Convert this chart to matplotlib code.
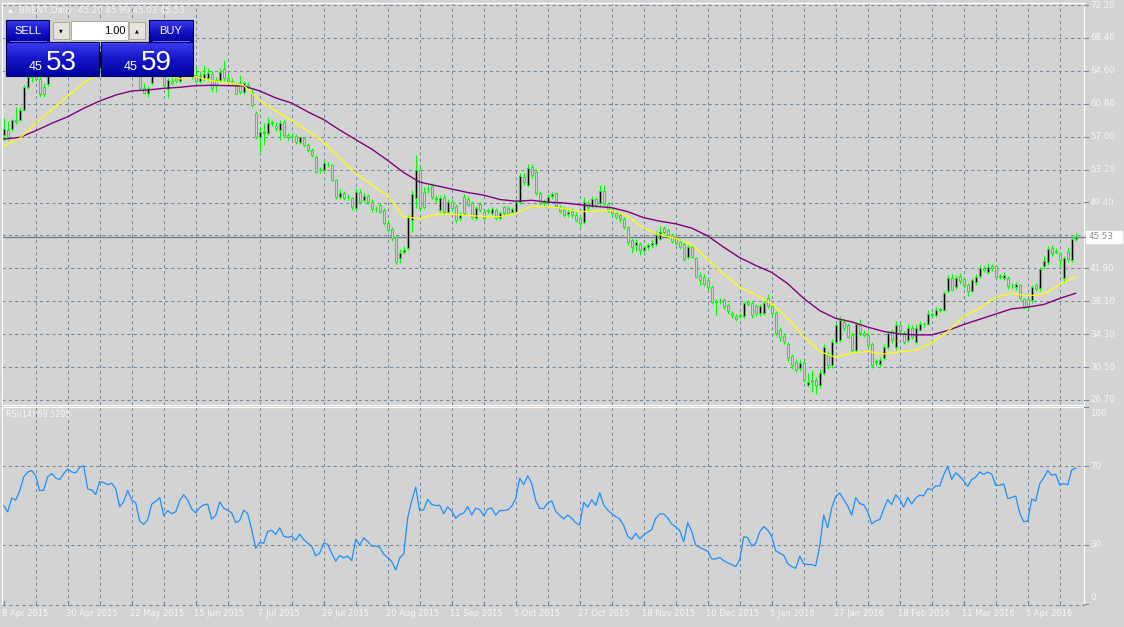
import numpy as np
import matplotlib.pyplot as plt
from matplotlib.colors import LinearSegmentedColormap

# ---- data (daily bars, 8 Apr 2015 .. 21 Apr 2016) ----
opens = [
    57.2, 57.8, 57.9, 59.0, 59.0, 60.1, 62.8, 63.9, 64.3, 63.7,
    62.8, 63.1, 64.6, 65.3, 64.8, 64.6, 65.8, 66.8, 66.5, 66.4,
    67.5, 67.8, 65.5, 65.4, 64.9, 66.9, 66.8, 66.6, 66.8, 66.3,
    64.4, 65.0, 66.5, 65.4, 64.9, 62.6, 62.1, 63.2, 64.5, 64.9,
    65.4, 62.5, 63.5, 63.8, 63.4, 64.8, 65.6, 65.0, 64.1, 63.5,
    63.75, 63.8, 64.25, 63.56, 63.56, 64.8, 63.75, 63.5, 63.0, 63.2,
    62.2, 63.0, 62.2, 59.8, 57.0, 57.6, 57.4, 58.6, 58.3, 57.8,
    58.75, 57.2, 57.1, 57.1, 56.45, 56.84, 56.07, 55.5, 54.73, 53.25,
    53.2, 53.8, 53.77, 52.04, 50.05, 50.58, 50.05, 49.93, 48.8, 50.7,
    49.74, 50.2, 49.55, 48.7, 49.16, 48.6, 47.1, 46.36, 45.44, 43.0,
    43.78, 44.2, 47.43, 50.0, 53.19, 50.7, 51.1, 51.35, 49.9, 48.58,
    50.04, 48.39, 49.55, 49.04, 47.62, 50.04, 49.9, 49.35, 47.62, 49.27,
    48.39, 48.5, 48.28, 48.58, 47.62, 48.89, 48.78, 48.39, 48.39, 49.55,
    52.42, 51.46, 53.58, 53.0, 50.6, 49.55, 49.55, 50.2, 50.5, 48.9,
    48.6, 48.1, 48.5, 48.0, 47.7, 47.17, 49.35, 49.05, 49.9, 49.35,
    50.77, 49.24, 48.66, 48.2, 48.0, 47.6, 46.67, 45.1, 44.55, 44.67,
    43.98, 44.36, 44.5, 44.67, 45.3, 46.47, 46.28, 45.7, 45.2, 44.9,
    44.67, 43.13, 44.3, 43.0, 41.1, 40.9, 40.5, 39.75, 38.0, 38.1,
    38.2, 37.6, 36.76, 36.4, 36.4, 36.4, 38.0, 37.9, 37.5, 36.7,
    36.7, 38.4, 37.5, 36.7, 34.8, 34.1, 33.2, 31.77, 31.1, 30.35,
    31.0, 28.4, 29.0, 29.0, 28.4, 29.8, 31.9, 30.7, 33.4, 33.6,
    35.7, 35.3, 34.2, 32.46, 35.4, 34.45, 34.2, 33.2, 31.1, 30.9,
    31.5, 32.8, 34.6, 32.8, 35.3, 34.4, 33.6, 35.0, 33.4, 34.8,
    35.4, 35.5, 36.5, 36.5, 37.1, 37.1, 39.2, 40.8, 39.7, 41.0,
    40.6, 39.9, 39.3, 40.3, 41.0, 41.86, 41.48, 42.1, 42.1, 40.9,
    40.7, 40.7, 39.9, 39.67, 39.9, 38.3, 38.3, 38.2, 39.9, 39.56,
    42.1, 42.6, 44.2, 43.8, 43.67, 40.7, 43.7, 42.8, 45.29,
]
highs = [
    59.2, 58.8, 59.1, 60.5, 60.5, 63.0, 64.6, 64.8, 65.0, 64.0,
    63.2, 64.9, 65.6, 65.8, 65.4, 66.0, 67.0, 67.2, 67.0, 67.8,
    69.8, 68.0, 66.0, 65.8, 67.0, 67.5, 67.3, 67.1, 67.0, 66.5,
    65.4, 66.8, 66.7, 65.7, 65.2, 63.2, 62.9, 64.8, 65.5, 65.8,
    65.6, 63.8, 64.1, 64.5, 65.0, 65.8, 65.9, 65.2, 65.1, 64.6,
    65.3, 65.0, 64.6, 63.9, 64.9, 65.9, 64.2, 63.8, 63.3, 64.1,
    63.5, 63.3, 62.5, 60.0, 58.2, 58.6, 59.3, 59.0, 58.7, 58.95,
    58.9, 57.5, 57.4, 57.3, 57.1, 57.0, 56.3, 55.7, 54.9, 53.5,
    54.3, 54.1, 53.9, 52.2, 51.0, 50.8, 50.4, 50.1, 51.1, 51.0,
    50.5, 50.4, 49.8, 49.0, 49.4, 48.8, 47.4, 46.6, 45.7, 44.1,
    44.4, 48.0, 50.9, 54.9, 53.5, 51.2, 51.5, 51.7, 50.3, 50.3,
    50.4, 49.9, 49.8, 49.3, 48.3, 50.4, 50.2, 49.6, 49.1, 49.5,
    48.6, 48.8, 48.9, 48.8, 48.5, 49.1, 49.0, 48.9, 49.8, 52.8,
    52.9, 53.9, 53.9, 53.3, 50.8, 49.8, 50.4, 50.7, 50.7, 49.2,
    48.9, 48.7, 48.8, 48.3, 47.9, 50.1, 49.6, 50.2, 50.1, 51.5,
    51.5, 49.5, 48.9, 48.5, 48.2, 47.8, 46.8, 45.4, 45.2, 44.9,
    44.6, 44.8, 45.3, 46.2, 46.7, 46.8, 46.5, 45.9, 45.5, 45.2,
    44.9, 44.6, 44.5, 43.2, 41.4, 41.2, 40.7, 40.0, 38.3, 38.5,
    38.5, 37.9, 37.0, 36.6, 36.7, 38.1, 38.2, 38.1, 37.8, 37.8,
    38.1, 38.9, 37.8, 36.9, 35.1, 34.4, 33.4, 32.0, 31.4, 31.4,
    31.2, 29.8, 30.1, 29.4, 30.3, 33.2, 32.3, 33.7, 35.6, 36.4,
    36.0, 35.6, 34.5, 35.7, 36.0, 34.8, 34.5, 33.4, 31.4, 31.6,
    33.1, 34.7, 34.9, 35.8, 35.6, 34.7, 35.5, 35.3, 35.4, 35.8,
    35.7, 37.1, 36.8, 37.4, 37.4, 39.3, 41.1, 41.2, 41.1, 41.3,
    40.9, 40.2, 40.8, 41.2, 42.3, 42.1, 42.5, 42.4, 42.3, 41.2,
    41.4, 41.0, 40.2, 40.3, 40.1, 38.5, 38.5, 39.9, 40.2, 42.0,
    43.3, 44.4, 44.5, 44.2, 43.9, 43.3, 44.3, 45.5, 45.9,
]
lows = [
    56.7, 56.7, 57.7, 58.5, 58.8, 60.0, 62.5, 63.3, 63.4, 61.6,
    61.6, 62.9, 64.2, 64.3, 64.2, 64.3, 65.5, 66.0, 65.9, 66.2,
    67.0, 65.2, 64.8, 64.4, 64.7, 66.2, 66.0, 66.0, 66.0, 64.2,
    64.2, 64.8, 65.0, 64.8, 62.5, 61.9, 61.6, 63.0, 64.2, 64.5,
    62.8, 61.5, 63.0, 63.2, 63.2, 64.4, 64.8, 63.7, 63.2, 63.2,
    63.5, 63.4, 62.2, 62.2, 63.3, 63.5, 63.2, 63.0, 61.9, 62.0,
    62.0, 62.5, 60.5, 56.8, 55.3, 56.1, 57.2, 58.3, 57.7, 56.65,
    57.0, 56.7, 56.8, 56.2, 56.2, 55.9, 55.3, 54.7, 52.9, 52.9,
    53.0, 53.5, 51.9, 49.9, 49.8, 49.7, 49.7, 48.6, 48.6, 49.3,
    49.5, 49.3, 48.4, 48.4, 48.2, 46.9, 46.0, 45.0, 42.4, 42.5,
    43.5, 44.0, 46.0, 48.8, 48.5, 48.7, 50.6, 49.9, 49.5, 48.3,
    48.1, 48.2, 48.5, 47.1, 47.3, 48.0, 49.0, 47.5, 47.4, 48.3,
    47.4, 48.2, 48.0, 47.4, 47.4, 48.0, 48.0, 48.2, 48.2, 49.3,
    51.5, 51.2, 52.3, 50.3, 49.2, 49.0, 49.3, 49.9, 48.8, 48.2,
    47.8, 47.8, 47.7, 47.2, 46.6, 47.0, 48.6, 48.8, 48.9, 49.1,
    49.1, 48.4, 47.9, 47.5, 47.2, 46.4, 44.6, 43.6, 43.9, 43.4,
    43.6, 44.0, 44.2, 44.4, 45.1, 45.8, 45.4, 44.8, 44.5, 44.1,
    42.7, 42.9, 43.0, 40.7, 40.0, 39.8, 39.4, 37.8, 36.5, 37.8,
    37.2, 36.6, 36.2, 35.8, 36.1, 36.2, 37.5, 36.2, 36.4, 36.4,
    36.5, 37.3, 36.4, 34.1, 33.5, 33.2, 31.2, 30.3, 29.9, 30.0,
    28.8, 28.2, 27.6, 27.35, 28.1, 29.6, 30.3, 30.4, 33.2, 33.4,
    34.7, 33.8, 32.2, 32.2, 34.1, 33.9, 32.7, 30.4, 30.6, 30.5,
    31.3, 32.6, 33.3, 32.5, 34.3, 33.1, 33.4, 33.7, 33.1, 34.6,
    35.1, 35.3, 36.2, 36.3, 36.8, 36.9, 39.0, 39.2, 39.5, 40.1,
    39.6, 38.7, 39.1, 40.0, 40.8, 41.4, 41.2, 41.6, 40.7, 40.6,
    40.5, 39.5, 39.6, 39.4, 38.2, 37.2, 37.2, 37.9, 39.2, 39.3,
    41.8, 42.3, 43.3, 43.5, 42.0, 40.2, 42.6, 42.6, 45.03,
]
closes = [
    57.9, 57.0, 58.95, 58.7, 60.1, 62.8, 63.9, 64.3, 63.7, 61.9,
    62.0, 64.6, 65.3, 64.8, 64.6, 65.8, 66.8, 66.5, 66.4, 67.5,
    67.8, 65.5, 65.4, 64.9, 66.9, 66.8, 66.6, 66.8, 66.3, 64.4,
    65.0, 66.5, 65.4, 65.1, 62.6, 62.1, 62.6, 64.5, 64.9, 65.4,
    63.0, 63.6, 63.2, 63.4, 64.8, 65.6, 65.0, 63.9, 63.4, 64.0,
    64.3, 64.4, 62.6, 63.0, 64.5, 63.75, 63.5, 63.2, 62.0, 62.2,
    63.2, 62.8, 60.7, 57.0, 57.6, 57.4, 58.6, 58.7, 58.0, 58.65,
    57.2, 57.0, 57.1, 56.45, 56.95, 56.07, 55.5, 54.92, 53.0, 53.2,
    53.96, 53.75, 52.04, 50.05, 50.5, 49.93, 50.05, 48.97, 50.7, 49.55,
    50.2, 49.55, 48.66, 48.66, 48.4, 47.05, 46.28, 45.32, 42.63, 43.6,
    43.97, 47.8, 50.43, 53.19, 48.78, 48.97, 51.1, 50.12, 49.9, 49.93,
    48.39, 49.55, 48.78, 47.43, 48.0, 48.2, 49.16, 47.8, 48.78, 48.58,
    47.62, 48.5, 48.66, 47.62, 48.2, 48.2, 48.28, 48.66, 49.55, 52.5,
    51.85, 53.4, 52.62, 50.5, 49.4, 49.35, 50.12, 50.4, 49.05, 48.5,
    48.0, 48.4, 48.0, 47.4, 47.1, 49.47, 48.9, 49.8, 49.16, 50.77,
    49.35, 48.66, 48.2, 47.8, 47.5, 46.6, 44.95, 44.36, 44.9, 43.98,
    44.3, 44.55, 44.75, 45.7, 46.1, 46.1, 45.7, 45.05, 44.75, 44.36,
    42.9, 44.36, 43.2, 40.9, 40.5, 40.1, 39.7, 38.0, 38.0, 38.1,
    37.4, 36.9, 36.5, 36.0, 36.4, 37.9, 37.8, 36.5, 36.7, 37.5,
    37.9, 37.5, 36.7, 34.4, 33.9, 33.5, 31.5, 30.7, 30.15, 31.0,
    29.0, 28.8, 28.8, 28.4, 29.8, 32.8, 30.7, 33.4, 35.3, 35.9,
    34.95, 34.0, 32.46, 35.4, 34.4, 34.2, 33.0, 30.7, 31.1, 31.3,
    32.8, 34.4, 33.6, 35.3, 34.6, 33.4, 35.0, 34.0, 35.0, 35.5,
    35.4, 36.6, 36.5, 37.1, 37.1, 39.0, 40.8, 39.4, 40.8, 40.4,
    39.9, 39.3, 40.5, 40.9, 41.9, 41.67, 42.06, 41.9, 40.9, 40.9,
    41.1, 39.8, 39.9, 40.06, 38.4, 37.4, 37.45, 39.67, 39.45, 41.75,
    42.7, 44.05, 43.6, 43.8, 42.8, 43.0, 42.9, 45.2, 45.53,
]

# moving averages read every 4th bar
ma_step = 4
ma_fast = [
    55.96, 56.84, 58.57, 60.1, 61.7, 63.25, 64.2, 64.9, 65.3, 65.0,
    64.2, 63.7, 63.94, 63.45, 63.25, 62.95, 61.2, 60.0, 58.9, 57.7,
    56.4, 54.6, 52.8, 51.5, 50.2, 47.8, 47.6, 48.1, 48.1, 47.95,
    47.85, 47.8, 48.2, 49.0, 49.0, 48.75, 48.4, 48.45, 48.55, 47.85,
    46.5, 45.75, 45.3, 44.6, 42.9, 41.2, 39.7, 38.8, 37.8, 36.1,
    34.0, 32.3, 31.6, 32.1, 32.3, 32.0, 32.25, 32.45, 33.3, 34.6,
    36.3, 37.3, 38.5, 39.0, 38.7, 38.9, 40.0, 40.9,
]
ma_slow = [
    56.76, 56.95, 57.72, 58.57, 59.33, 60.3, 61.14, 61.83, 62.3, 62.41,
    62.6, 62.72, 62.91, 62.95, 62.91, 62.87, 62.3, 61.5, 60.9, 59.9,
    59.0, 57.8, 56.7, 55.6, 54.3, 52.9, 51.8, 51.4, 51.0, 50.6,
    50.3, 49.8, 49.6, 49.7, 49.5, 49.4, 49.2, 49.0, 48.85, 48.4,
    47.7, 47.3, 47.0, 46.5, 45.6, 44.3, 43.1, 42.2, 41.4, 40.1,
    38.4, 37.0, 36.1, 35.7, 35.1, 34.6, 34.3, 34.2, 34.2, 34.7,
    35.4, 36.0, 36.6, 37.2, 37.4, 37.7, 38.4, 39.0,
]

date_labels = [
    '8 Apr 2015', '30 Apr 2015', '22 May 2015', '15 Jun 2015', '7 Jul 2015',
    '29 Jul 2015', '20 Aug 2015', '11 Sep 2015', '5 Oct 2015', '27 Oct 2015',
    '18 Nov 2015', '10 Dec 2015', '5 Jan 2016', '27 Jan 2016', '18 Feb 2016',
    '11 Mar 2016', '5 Apr 2016',
]
# price grid from top to bottom; the 45.66 line carries no label (price tag sits there)
price_labels = ['72.20', '68.40', '64.60', '60.80', '57.00', '53.20', '49.40',
                '', '41.90', '38.10', '34.30', '30.50', '26.70']
price_top, price_bottom = 72.2, 26.7
label_every = 16
grid_every = 8
rsi_period = 14
rsi_levels = [70, 30]
rsi_ticks = [100, 70, 30, 0]
last_price = 45.53

# ---- look ----
W, H = 1124, 627
BG = '#d3d3d3'
GRID = '#778899'
LIME = '#00ff00'
TXT = '#f6f6f6'
dash = (0, (3, 3))

fig = plt.figure(figsize=(W / 100, H / 100), dpi=100, facecolor=BG)


def px_axes(x0, y0, x1, y1, **kw):
    return fig.add_axes([x0 / W, 1 - y1 / H, (x1 - x0) / W, (y1 - y0) / H], **kw)


def rsi(values, period, seed=0.5):
    g = l = seed
    out = [50.0]
    for a, b in zip(values[:-1], values[1:]):
        d = b - a
        g = (g * (period - 1) + max(d, 0)) / period
        l = (l * (period - 1) + max(-d, 0)) / period
        out.append(100 * g / (g + l))
    return np.array(out)


n = len(closes)
x = np.arange(n)
o, hi, lo, c = map(np.array, (opens, highs, lows, closes))
xlim = ((2 - 3.7) / 4, (1084 - 3.7) / 4)

# ---- main price panel ----
ax = px_axes(2, 3, 1084, 405)
ax.set_facecolor(BG)
ax.set_xlim(*xlim)
scale = 395 / (price_top - price_bottom)
ax.set_ylim(price_bottom - 5 / scale, price_top + 2 / scale)
price_ticks = np.linspace(price_top, price_bottom, len(price_labels))
for t in price_ticks:
    ax.axhline(t, color=GRID, lw=0.75, ls=dash, zorder=1)
for gx in range(grid_every, n, grid_every):
    ax.axvline(gx, color=GRID, lw=0.75, ls=dash, zorder=1)
ax.axhline(last_price, color='#6c7886', lw=0.9, zorder=1.5)

up = c >= o
ax.vlines(x, lo, hi, color=LIME, lw=0.8, zorder=2)
body_lo = np.minimum(o, c)
body_h = np.maximum(np.abs(c - o), 0.05)
ax.bar(x, body_h, bottom=body_lo, width=0.5, color=np.where(up, 'black', BG),
       edgecolor=LIME, linewidth=0.75, zorder=3)

ma_x = np.arange(0, n, ma_step)
ax.plot(ma_x, ma_slow, color='#800080', lw=1.0, zorder=4)
ax.plot(ma_x, ma_fast, color='#ffff00', lw=0.9, zorder=4)
ax.set_xticks([])
ax.set_yticks([])
for s in ax.spines.values():
    s.set_color('white')
    s.set_linewidth(0.9)

# ---- RSI panel ----
rax = px_axes(2, 407, 1084, 604)
rax.set_facecolor(BG)
rax.set_xlim(*xlim)
rax.set_ylim(0, 100)
for lv in rsi_levels:
    rax.axhline(lv, color=GRID, lw=0.75, ls=dash, zorder=1)
for gx in range(grid_every, n, grid_every):
    rax.axvline(gx, color=GRID, lw=0.75, ls=dash, zorder=1)
rax.plot(x, rsi(closes, rsi_period), color='#1e90ff', lw=0.9, zorder=3)
rax.set_xticks([])
rax.set_yticks([])
for s in rax.spines.values():
    s.set_color('white')
    s.set_linewidth(0.9)
rax.spines['bottom'].set_visible(False)

# ---- overlay in pixel units for labels and the trade panel ----
ov = fig.add_axes([0, 0, 1, 1], zorder=10)
ov.set_xlim(0, W)
ov.set_ylim(H, 0)
ov.axis('off')
ov.patch.set_alpha(0)


def bar_px(i):
    return 3.7 + 4 * i


def price_px(p):
    return 5 + (price_top - p) * scale


def rsi_px(v):
    return 604 - v * 1.97


for t, lab in zip(price_ticks, price_labels):
    if not lab:
        continue
    yy = price_px(t)
    ov.plot([1084, 1088], [yy, yy], color=GRID, lw=0.8)
    ov.text(1090, yy, lab, fontsize=6.3, color=TXT, va='center', ha='left')
yy = price_px(last_price)
ov.plot([1084, 1088], [yy, yy], color='#6c7886', lw=0.9)
ov.add_patch(plt.Rectangle((1086, yy - 6), 36, 12, color='white', zorder=11))
ov.text(1089, yy, f'{last_price:.2f}', fontsize=6.3, color='#8a8a8a', va='center',
        ha='left', zorder=12)
for v in rsi_ticks:
    yy = rsi_px(v)
    ov.plot([1084, 1088], [yy, yy], color=GRID, lw=0.8)
    ov.text(1090, min(max(yy, 413), 598), str(v), fontsize=6.3, color=TXT,
            va='center', ha='left')
ov.text(6, 414, 'RSI(14) 69.5295', fontsize=5.8, color=TXT, va='center', ha='left')

# time scale
ov.plot([2, 1084], [605, 605], color=GRID, lw=0.8, ls=dash)
for gx in range(0, n, grid_every):
    xx = bar_px(gx)
    ov.plot([xx, xx], [601 if gx % label_every == 0 else 603, 605], color=GRID, lw=0.8)
for k, lab in enumerate(date_labels):
    ov.text(bar_px(k * label_every) - 1.5, 614, lab, fontsize=6, color=TXT,
            va='center', ha='left')

# header
ov.text(8, 10.5, '\u25b2', fontsize=4.5, color=TXT, va='center', ha='left')
ov.text(19, 10.5, 'BRENT,Daily  45.29 45.90 45.03 45.53', fontsize=6.2,
        color=TXT, va='center', ha='left')

# one-click trading panel
blue = LinearSegmentedColormap.from_list('b', ['#3b3bf0', '#1515c8', '#0000a0'])
grad = np.linspace(0, 1, 60).reshape(-1, 1)


def blue_box(x0, y0, x1, y1):
    ov.imshow(grad, extent=(x0, x1, y1, y0), cmap=blue, aspect='auto', zorder=11,
              interpolation='bilinear')
    ov.add_patch(plt.Rectangle((x0, y0), x1 - x0, y1 - y0, fill=False,
                               edgecolor='#000060', lw=0.8, zorder=12))


blue_box(6, 20, 49, 42)
blue_box(149, 20, 193, 42)
blue_box(6, 42, 99, 76)
blue_box(101, 42, 193, 76)
ov.plot([10, 46], [41, 41], color='#8080ff', lw=0.6, zorder=13)
ov.plot([153, 189], [41, 41], color='#8080ff', lw=0.6, zorder=13)
ov.text(27.5, 30.5, 'SELL', fontsize=8, color='white', ha='center', va='center',
        family='Liberation Sans', zorder=13)
ov.text(171, 30.5, 'BUY', fontsize=8, color='white', ha='center', va='center',
        family='Liberation Sans', zorder=13)
ov.add_patch(plt.Rectangle((51, 20), 96, 22, color='#d4d0c8', zorder=11))
ov.add_patch(plt.Rectangle((53, 22), 16, 17, facecolor='#e6e3dc', edgecolor='#a0a0a0',
                           lw=0.6, zorder=12))
ov.add_patch(plt.Rectangle((129, 22), 16, 17, facecolor='#e6e3dc', edgecolor='#a0a0a0',
                           lw=0.6, zorder=12))
ov.add_patch(plt.Rectangle((71, 21), 57, 19, facecolor='white', edgecolor='#a0a0a0',
                           lw=0.6, zorder=12))
ov.text(61, 30.5, '\u25bc', fontsize=3.5, color='black', ha='center', va='center', zorder=13)
ov.text(137, 30.5, '\u25b2', fontsize=3.5, color='black', ha='center', va='center', zorder=13)
ov.text(126, 30.5, '1.00', fontsize=8, color='black', ha='right', va='center',
        family='Liberation Sans', zorder=13)
for x0, big in ((6, '53'), (101, '59')):
    ov.text(x0 + 23, 70, '45', fontsize=9, color='white', ha='left', va='baseline',
            family='Liberation Sans', zorder=13)
    ov.text(x0 + 40, 70, big, fontsize=20, color='white', ha='left', va='baseline',
            family='Liberation Sans', zorder=13)

fig.savefig('out.png', dpi=100, facecolor=BG)
